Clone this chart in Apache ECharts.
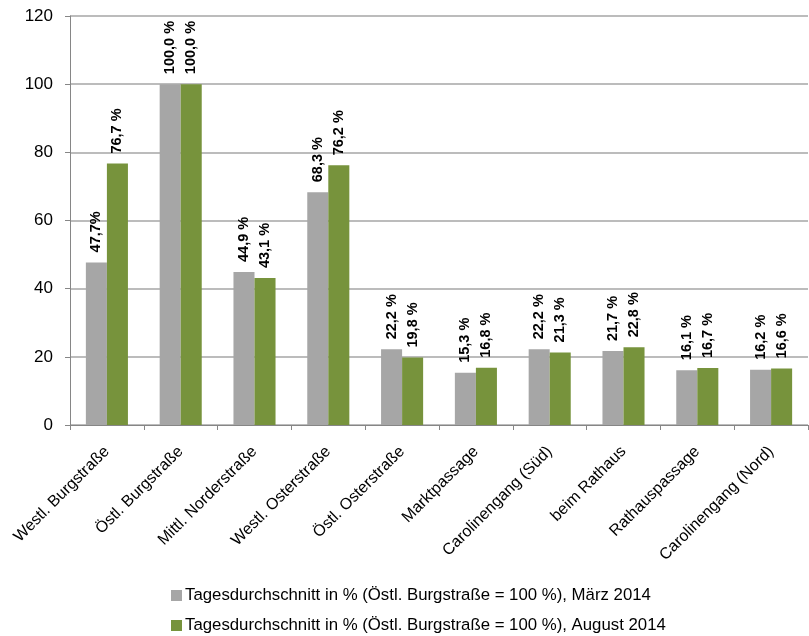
<!DOCTYPE html>
<html><head><meta charset="utf-8">
<script src="https://cdn.jsdelivr.net/npm/echarts@6/dist/echarts.min.js"></script>
<style>html,body{margin:0;padding:0;background:#fff}#c{width:809px;height:636px}</style>
</head><body><div id="c"></div>
<script>
const categories = ["Westl. Burgstraße","Östl. Burgstraße","Mittl. Norderstraße","Westl. Osterstraße","Östl. Osterstraße","Marktpassage","Carolinengang (Süd)","beim Rathaus","Rathauspassage","Carolinengang (Nord)"];
const maerz = [47.7,100.0,44.9,68.3,22.2,15.3,22.2,21.7,16.1,16.2];
const august = [76.7,100.0,43.1,76.2,19.8,16.8,21.3,22.8,16.7,16.6];
const maerzLabels = ["47,7%","100,0 %","44,9 %","68,3 %","22,2 %","15,3 %","22,2 %","21,7 %","16,1 %","16,2 %"];
const augustLabels = ["76,7 %","100,0 %","43,1 %","76,2 %","19,8 %","16,8 %","21,3 %","22,8 %","16,7 %","16,6 %"];
const seriesNames = ["Tagesdurchschnitt in % (Östl. Burgstraße = 100 %), März 2014","Tagesdurchschnitt in % (Östl. Burgstraße = 100 %), August 2014"];
const yTicks = [0,20,40,60,80,100,120];

const FONT = '"Liberation Sans",Arial,sans-serif';
const chart = echarts.init(document.getElementById('c'), null, {renderer:'canvas'});
function lbl(arr){
  return {show:true, position:'top', rotate:90, align:'left', verticalAlign:'middle', distance:10,
    fontFamily:FONT, fontWeight:'bold', fontSize:14.5, color:'#000',
    formatter:p=>arr[p.dataIndex]};
}
function leg(name, top){
  return {orient:'horizontal', left:171, top:top, itemWidth:11, itemHeight:11, itemGap:10, icon:'rect',
    padding:0,
    textStyle:{fontFamily:FONT, fontSize:16.8, color:'#000', padding:[0,0,0,-2]},
    data:[name]};
}
chart.setOption({
  animation:false,
  textStyle:{fontFamily:FONT},
  grid:{left:70,right:1,top:16,bottom:211,containLabel:false},
  legend:[leg(seriesNames[0],587), leg(seriesNames[1],617)],
  xAxis:{type:'category', data:categories,
    axisLine:{lineStyle:{color:'#868686',width:1}},
    axisTick:{show:true,length:5,lineStyle:{color:'#868686'}},
    axisLabel:{rotate:45, fontFamily:FONT, fontSize:16, color:'#000', margin:24, interval:0}},
  yAxis:{type:'value', min:yTicks[0], max:yTicks[yTicks.length-1], interval:20,
    axisLine:{show:true,lineStyle:{color:'#868686'}},
    axisTick:{show:true,length:5,lineStyle:{color:'#868686'}},
    splitLine:{lineStyle:{color:'#a6a6a6',width:1.5}},
    axisLabel:{fontFamily:FONT, fontSize:17, color:'#000', margin:17}},
  series:[
    {name:seriesNames[0], type:'bar', data:maerz, barGap:'0%', barCategoryGap:'43%',
      itemStyle:{color:'#a6a6a6'}, label:lbl(maerzLabels)},
    {name:seriesNames[1], type:'bar', data:august, barGap:'0%', barCategoryGap:'43%',
      itemStyle:{color:'#77933c'}, label:lbl(augustLabels)}
  ]
});
</script></body></html>
